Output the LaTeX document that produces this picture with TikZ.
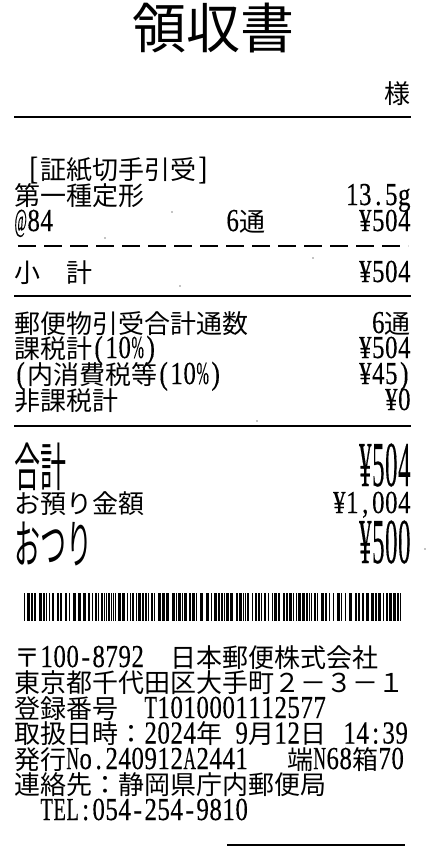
\documentclass[tikz,border=0pt]{standalone}
\usepackage{fontspec}
\usepackage{graphicx}
\setmainfont{Noto Sans CJK JP}
\newfontfamily\latfont[FakeBold=0.4]{Liberation Serif}
\newsavebox\hwbox
\makeatletter
\newcommand\hw[1]{{\latfont\fontsize{32}{32}\selectfont\@tfor\hwc:=#1\do{\sbox\hwbox{\hwc}\pgfmathsetmacro\hws{min(0.8,12.4/\the\wd\hwbox)}\makebox[13pt][c]{\scalebox{\hws}[1]{\usebox\hwbox}}}}}
\makeatother
\newcommand\tall[1]{\scalebox{1}[2]{#1}}
\tikzset{
  lft/.style={anchor=base west,inner sep=0pt,font=\fontsize{26}{26}\selectfont,text=black},
  rgt/.style={anchor=base east,inner sep=0pt,font=\fontsize{26}{26}\selectfont,text=black},
  rulel/.style={line width=1.5pt,black},
  dashrule/.style={line width=1.5pt,black,dash pattern=on 18pt off 8pt},
  speck/.style={fill=black,draw=none}
}
\begin{document}
\begin{tikzpicture}[x=1pt,y=-1pt]
\useasboundingbox (0,0) rectangle (426,846);
\fill[white] (0,0) rectangle (426,846);
% title
\node[anchor=base,inner sep=0pt,font=\fontsize{54}{54}\selectfont] (title) at (213,48) {領収書};
\node[rgt] (sama) at (411,103) {様};
\coordinate (r1a) at (14,117); \coordinate (r1b) at (411,117);
\draw[rulel] (r1a) -- (r1b);
% items
\node[lft] (t1) at (14,179) {\hw{~[}証紙切手引受\hw{]}};
\node[lft] (t2) at (14,205) {第一種定形};
\node[rgt] (t2r) at (411,205) {\hw{13.5g}};
\node[lft] (t3) at (14,231) {\hw{@84}};
\node[lft] (t3m) at (226,231) {\hw{6}通};
\node[rgt] (t3r) at (411,231) {\hw{¥504}};
\coordinate (r2a) at (18,246); \coordinate (r2b) at (408,246);
\draw[dashrule] (r2a) -- (r2b);
\node[lft] (t4) at (14,282) {小\hw{~~}計};
\node[rgt] (t4r) at (411,282) {\hw{¥504}};
\coordinate (r3a) at (14,296); \coordinate (r3b) at (411,296);
\draw[rulel] (r3a) -- (r3b);
% totals
\node[lft] (t5) at (14,333) {郵便物引受合計通数};
\node[rgt] (t5r) at (411,333) {\hw{6}通};
\node[lft] (t6) at (14,358) {課税計\hw{(10\%)}};
\node[rgt] (t6r) at (411,358) {\hw{¥504}};
\node[lft] (t7) at (14,384) {\hw{(}内消費税等\hw{(10\%)}};
\node[rgt] (t7r) at (411,384) {\hw{¥45)}};
\node[lft] (t8) at (14,410) {非課税計};
\node[rgt] (t8r) at (411,410) {\hw{¥0}};
\coordinate (r4a) at (14,426); \coordinate (r4b) at (411,426);
\draw[rulel] (r4a) -- (r4b);
\node[lft] (t9) at (14,486) {\tall{合計}};
\node[rgt] (t9r) at (411,486) {\tall{\hw{¥504}}};
\node[lft] (t10) at (14,513) {お預り金額};
\node[rgt] (t10r) at (411,513) {\hw{¥1,004}};
\node[lft] (t11) at (14,563) {\tall{おつり}};
\node[rgt] (t11r) at (411,563) {\tall{\hw{¥500}}};
% barcode
\begin{scope}
\clip (24,593) rectangle (402,621);
\pgfmathsetseed{11}
\xdef\barx{24}
\foreach \i in {1,...,170}{
  \pgfmathrandominteger{\bw}{1}{3}
  \pgfmathrandominteger{\gw}{1}{5}
  \pgfmathsetmacro{\gap}{\gw>3?(\gw-2):1}
  \fill[black] (\barx,593) rectangle ({\barx+\bw},621);
  \pgfmathsetmacro{\nx}{\barx+\bw+\gap}
  \xdef\barx{\nx}
}
\end{scope}
% footer
\node[lft] (f1) at (14,667) {〒\hw{100-8792~~}日本郵便株式会社};
\node[lft] (f2) at (14,692.5) {東京都千代田区大手町２－３－１};
\node[lft] (f3) at (14,718) {登録番号\hw{~~T1010001112577}};
\node[lft] (f4) at (14,743.5) {取扱日時：\hw{2024}年\hw{~9}月\hw{12}日\kern4pt\hw{~14:39}};
\node[lft] (f5) at (14,769) {発行\hw{No.240912A2441~~~}端\hw{N68}箱\hw{70}};
\node[lft] (f6) at (14,794.5) {連絡先：静岡県庁内郵便局};
\node[lft] (f7) at (14,820) {\hw{~~TEL:054-254-9810}};
% specks and cut line
\foreach \p/\r in {172/212,105/238,313/258,180/286,257/421,425/549}{\fill[speck] (\p,\r) circle (.7pt);}
\coordinate (r5a) at (227,845); \coordinate (r5b) at (405,845);
\draw[line width=1.2pt,black] (r5a) -- (r5b);
\end{tikzpicture}
\end{document}
